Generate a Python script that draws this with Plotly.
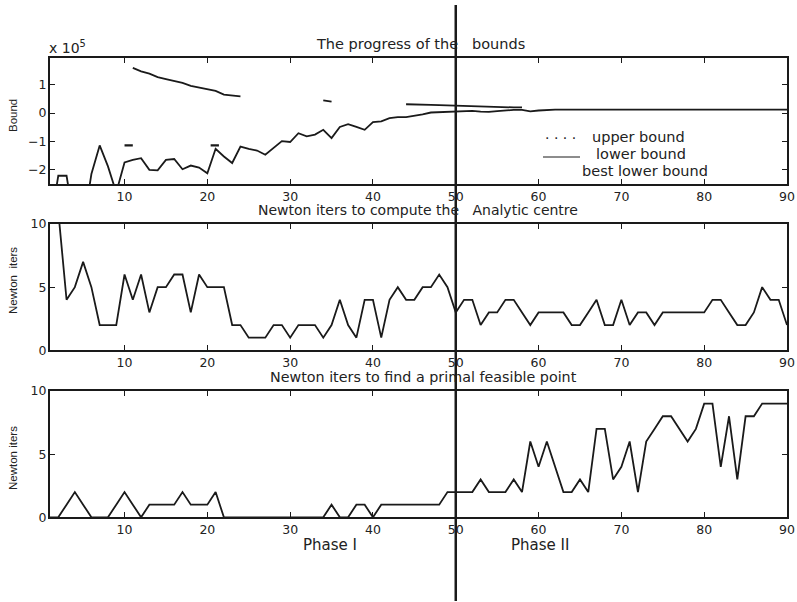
import plotly.graph_objects as go

W, H = 797, 602

# ---------------- data ----------------
iterations = list(range(1, 91))

# top panel (values in units of 1e5)
lower_bound = [-4.0, -2.21, -2.21, -4.0, -4.0, -2.15, -1.14, -1.88, -2.8, -1.74,
               -1.65, -1.59, -2.00, -2.02, -1.65, -1.62, -1.98, -1.85, -1.92, -2.12,
               -1.26, -1.53, -1.76, -1.18, -1.26, -1.32, -1.47, -1.24, -0.99, -1.02,
               -0.71, -0.82, -0.76, -0.59, -0.88, -0.49, -0.39, -0.49, -0.59, -0.32,
               -0.29, -0.18, -0.14, -0.14, -0.10, -0.05, 0.02, 0.03, 0.05, 0.07,
               0.08, 0.08, 0.05, 0.04, 0.07, 0.10, 0.11, 0.11, 0.06, 0.09,
               0.11, 0.12, 0.12, 0.12, 0.12, 0.12, 0.13, 0.14, 0.12, 0.12,
               0.12, 0.12, 0.12, 0.12, 0.12, 0.12, 0.12, 0.12, 0.12, 0.12,
               0.12, 0.12, 0.12, 0.12, 0.12, 0.12, 0.12, 0.12, 0.12, 0.12]

upper_x = [11, 12, 13, 14, 15, 16, 17, 18, 19, 20, 21, 22, 23, 24, None,
           34, 35, None,
           44, 45, 46, 47, 48, 49, 50, 51, 52, 53, 54, 55, 56, 57, 58]
upper_bound = [1.59, 1.47, 1.39, 1.27, 1.20, 1.13, 1.06, 0.96, 0.90, 0.85, 0.78, 0.65, 0.62, 0.59, None,
               0.45, 0.40, None,
               0.31, 0.31, 0.30, 0.29, 0.28, 0.27, 0.25, 0.24, 0.23, 0.23, 0.22, 0.21, 0.21, 0.20, 0.20]

best_x = [10, 11, None, 20.4, 21.4]
best_lower = [-1.14, -1.14, None, -1.14, -1.14]

# middle panel
newton_centre = [15, 11, 4, 5, 7, 5, 2, 2, 2, 6, 4, 6, 3, 5, 5, 6, 6, 3, 6, 5,
                 5, 5, 2, 2, 1, 1, 1, 2, 2, 1, 2, 2, 2, 1, 2, 4, 2, 1, 4, 4,
                 1, 4, 5, 4, 4, 5, 5, 6, 5, 3, 4, 4, 2, 3, 3, 4, 4, 3, 2, 3,
                 3, 3, 3, 2, 2, 3, 4, 2, 2, 4, 2, 3, 3, 2, 3, 3, 3, 3, 3, 3,
                 4, 4, 3, 2, 2, 3, 5, 4, 4, 2]

# bottom panel
newton_feasible = [0, 0, 1, 2, 1, 0, 0, 0, 1, 2, 1, 0, 1, 1, 1, 1, 2, 1, 1, 1,
                   2, 0, 0, 0, 0, 0, 0, 0, 0, 0, 0, 0, 0, 0, 1, 0, 0, 1, 1, 0,
                   1, 1, 1, 1, 1, 1, 1, 1, 2, 2, 2, 2, 3, 2, 2, 2, 3, 2, 6, 4,
                   6, 4, 2, 2, 3, 2, 7, 7, 3, 4, 6, 2, 6, 7, 8, 8, 7, 6, 7, 9,
                   9, 4, 8, 3, 8, 8, 9, 9, 9, 9]

x_ticks = [10, 20, 30, 40, 50, 60, 70, 80, 90]
top_y_ticks = [-2, -1, 0, 1]
iter_y_ticks = [0, 5, 10]
phase_split = 50

# ---------------- figure ----------------
def px(x):
    return x / W

def py(y):
    return 1 - y / H

FONT = "DejaVu Sans"
FONT2 = "Liberation Sans"
LC = "#1a1a1a"

fig = go.Figure()
line = dict(color=LC, width=1.8)
fig.add_trace(go.Scatter(x=iterations, y=lower_bound, mode="lines", line=line,
                         xaxis="x", yaxis="y", name="lower bound"))
fig.add_trace(go.Scatter(x=upper_x, y=upper_bound, mode="lines", line=line,
                         xaxis="x", yaxis="y", name="upper bound", connectgaps=False))
fig.add_trace(go.Scatter(x=best_x, y=best_lower, mode="lines", line=dict(color=LC, width=2.2),
                         xaxis="x", yaxis="y", name="best lower bound", connectgaps=False))
fig.add_trace(go.Scatter(x=iterations, y=newton_centre, mode="lines", line=line,
                         xaxis="x2", yaxis="y2", name="centre"))
fig.add_trace(go.Scatter(x=iterations, y=newton_feasible, mode="lines", line=line,
                         xaxis="x3", yaxis="y3", name="feasible"))

xdom = [px(50), px(787)]
doms = [[py(184), py(58.3)], [py(350.3), py(224)], [py(517.3), py(391)]]
yranges = [[-2.5, 1.93], [0, 10], [0, 10]]
yticks = [top_y_ticks, iter_y_ticks, iter_y_ticks]

axcommon = dict(showline=True, linewidth=2, linecolor=LC, mirror="allticks",
                ticks="inside", ticklen=5, tickwidth=1.3, tickcolor=LC,
                showgrid=False, zeroline=False, automargin=False,
                tickfont=dict(family=FONT, size=12.5, color="#222"))

layout = dict(width=W, height=H, margin=dict(l=0, r=0, t=0, b=0, pad=0),
              template="none", autosize=False,
              paper_bgcolor="white", plot_bgcolor="white", showlegend=False)
for i in range(3):
    sx = "" if i == 0 else str(i + 1)
    layout["xaxis" + sx] = dict(axcommon, domain=xdom, range=[1, 90], tickvals=x_ticks,
                                anchor="y" + sx)
    layout["yaxis" + sx] = dict(axcommon, domain=doms[i], range=yranges[i], tickvals=yticks[i],
                                anchor="x" + sx, ticklabelstandoff=-1)
fig.update_layout(**layout)

# phase separator
fig.add_shape(type="line", xref="x", yref="paper", x0=phase_split, x1=phase_split,
              y0=py(601), y1=py(5), line=dict(color=LC, width=2.5), layer="above")
# legend sample line (lower bound)
fig.add_shape(type="line", xref="paper", yref="paper", x0=px(543), x1=px(580),
              y0=py(157), y1=py(157), line=dict(color=LC, width=1))

def ann(text, x, y, size=14, xanchor="center", angle=0, family=FONT):
    fig.add_annotation(text=text, x=px(x), y=py(y), xref="paper", yref="paper",
                       showarrow=False, xanchor=xanchor, yanchor="middle",
                       textangle=angle, font=dict(family=family, size=size, color="#222"))

NB = "\u00a0"
ann("The progress of the" + NB + NB + " bounds", 420, 44, size=14.5)
ann("Newton iters to compute the" + NB + NB + " Analytic centre", 418, 210)
ann("Newton iters to find a primal feasible point", 423, 377, size=14.3)
ann("x 10<sup>5</sup>", 47, 47, size=14, xanchor="left")
ann(". . . .", 543, 134, size=14, xanchor="left")
ann("upper bound", 590, 137, size=14.5, xanchor="left")
ann("lower bound", 594, 154, size=14.5, xanchor="left")
ann("best lower bound", 580, 171, size=14.5, xanchor="left")
ann("Phase I", 330, 545, size=15)
ann("Phase II", 540, 545, size=15)
ann("Bound", 13, 116, size=11.5, angle=-90, family=FONT2)
ann("Newton" + NB + " iters", 13, 281, size=11.5, angle=-90, family=FONT2)
ann("Newton iters", 13, 458, size=11.5, angle=-90, family=FONT2)

fig.write_html("out.html", config={"displayModeBar": False},
               post_script="document.body.style.margin='0';")
